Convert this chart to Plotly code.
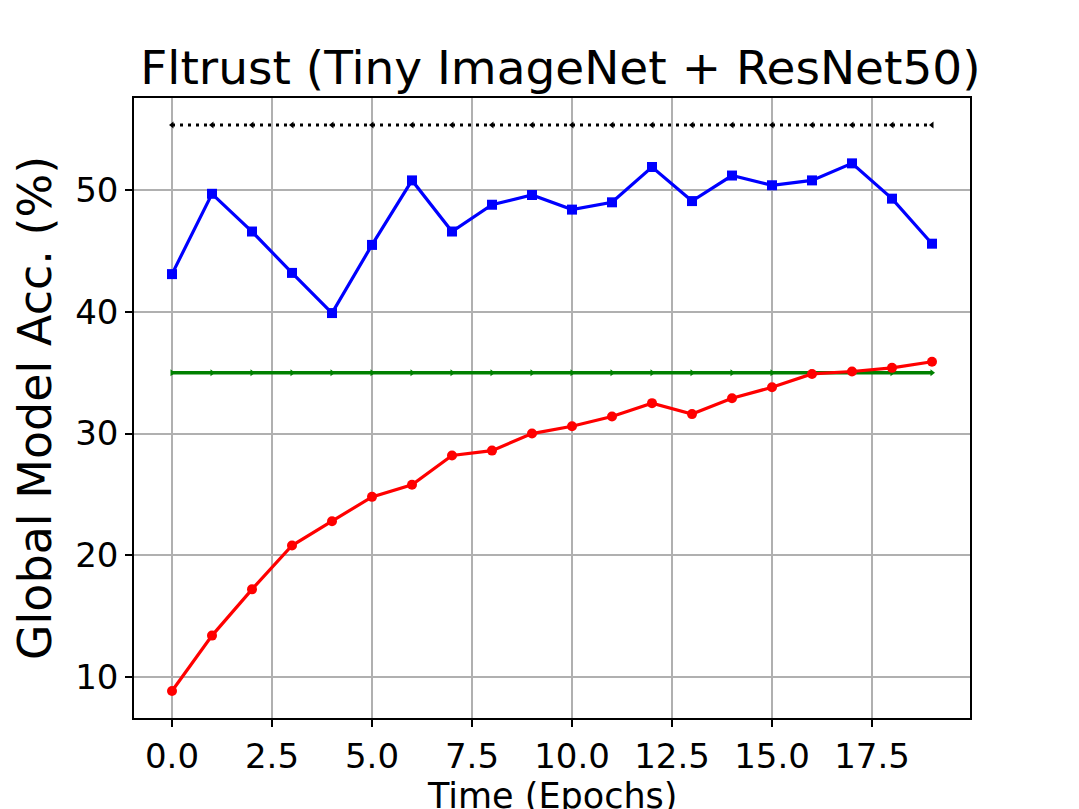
import plotly.graph_objects as go

epochs = list(range(20))

fltrust_acc = [43.1, 49.7, 46.6, 43.2, 39.9, 45.5, 50.8, 46.6, 48.8, 49.6,
               48.4, 49.0, 51.9, 49.1, 51.2, 50.4, 50.8, 52.2, 49.3, 45.6]
attack_acc = [8.85, 13.4, 17.2, 20.8, 22.8, 24.8, 25.8, 28.2, 28.6, 30.0,
              30.6, 31.4, 32.5, 31.6, 32.9, 33.8, 34.9, 35.1, 35.4, 35.9]
upper_ref = [55.35] * 20
lower_ref = [35.0] * 20

x_ticks = [0, 2.5, 5, 7.5, 10, 12.5, 15, 17.5]
x_tick_text = ["0.0", "2.5", "5.0", "7.5", "10.0", "12.5", "15.0", "17.5"]
y_ticks = [10, 20, 30, 40, 50]

FONT = "DejaVu Sans"

fig = go.Figure()
fig.add_trace(go.Scatter(
    x=epochs, y=upper_ref, mode="lines+markers",
    line=dict(color="black", width=3, dash="3px,5px"),
    marker=dict(symbol="triangle-left", size=6, color="black"),
))
fig.add_trace(go.Scatter(
    x=epochs, y=lower_ref, mode="lines+markers",
    line=dict(color="#008000", width=3.5),
    marker=dict(symbol="triangle-right", size=6, color="#008000"),
))
fig.add_trace(go.Scatter(
    x=epochs, y=fltrust_acc, mode="lines+markers",
    line=dict(color="#0000ff", width=3.2),
    marker=dict(symbol="square", size=10, color="#0000ff"),
))
fig.add_trace(go.Scatter(
    x=epochs, y=attack_acc, mode="lines+markers",
    line=dict(color="#ff0000", width=3.2),
    marker=dict(symbol="circle", size=10, color="#ff0000"),
))

axis_common = dict(
    showline=True, linecolor="black", linewidth=1.5, mirror=True,
    ticks="outside", ticklen=7, tickwidth=1.5, tickcolor="black",
    showgrid=True, gridcolor="#b0b0b0", gridwidth=1.5, zeroline=False,
    tickfont=dict(family=FONT, size=34, color="black"),
)

# the page body adds an 8px offset, margins are set to land the plot area on the reference
fig.update_layout(
    width=1079, height=809,
    paper_bgcolor="white", plot_bgcolor="white",
    margin=dict(l=126, r=117, t=90, b=99),
    showlegend=False,
    font=dict(family=FONT, color="black"),
    title=dict(text="Fltrust (Tiny ImageNet + ResNet50)", x=0.512, xanchor="center",
               y=0.926, yanchor="middle", font=dict(family=FONT, size=47)),
    xaxis=dict(range=[-0.95, 19.95], tickvals=x_ticks, ticktext=x_tick_text, **axis_common),
    yaxis=dict(range=[6.63, 57.57], tickvals=y_ticks, **axis_common),
)
fig.update_yaxes(title=dict(text="Global Model Acc. (%)", font=dict(family=FONT, size=46), standoff=12))
fig.add_annotation(
    text="Time (Epochs)", xref="paper", yref="paper", x=0.5, y=-0.09,
    xanchor="center", yanchor="top", showarrow=False,
    font=dict(family=FONT, size=35, color="black"),
)

fig.write_html("out.html")
